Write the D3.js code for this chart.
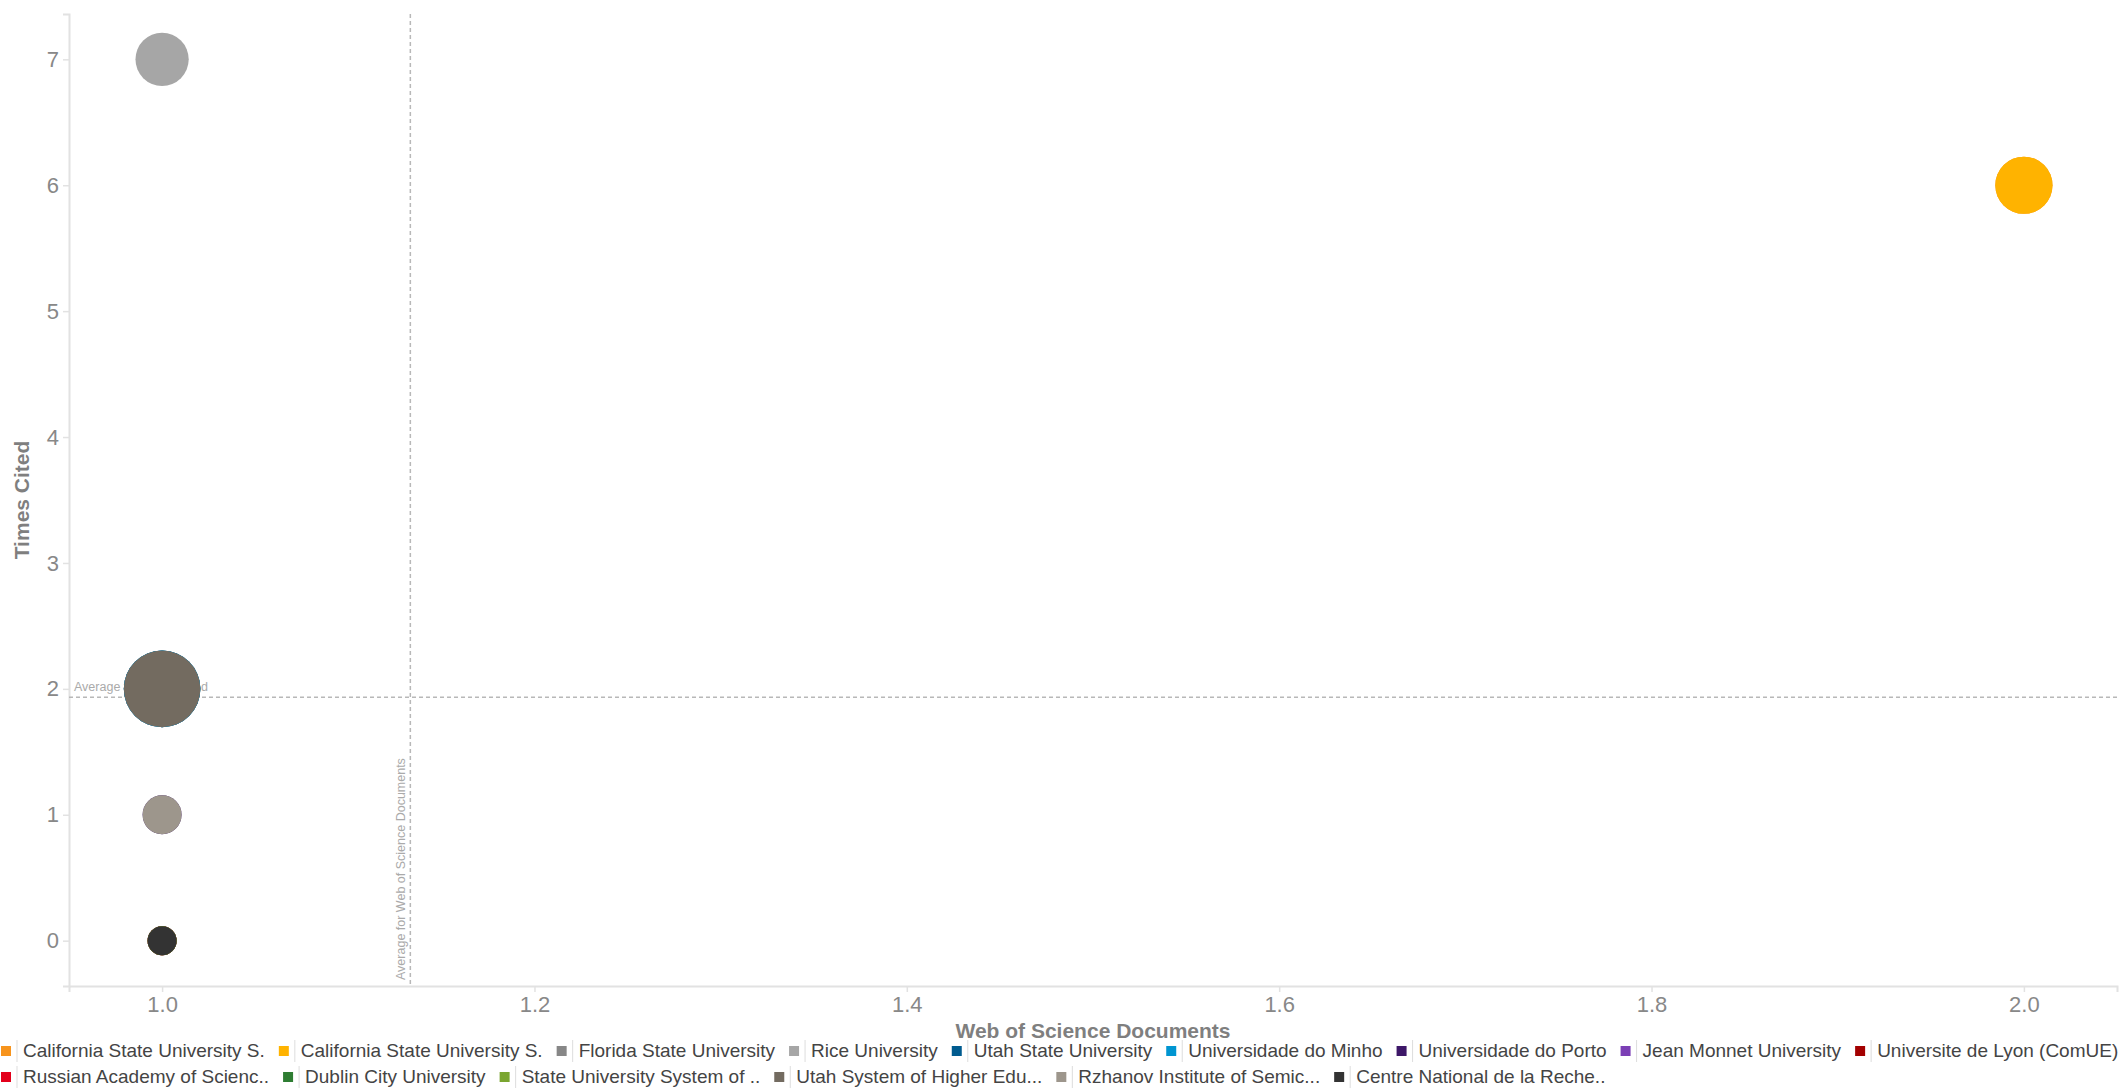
<!DOCTYPE html>
<html>
<head>
<meta charset="utf-8">
<script src="https://cdn.jsdelivr.net/npm/d3@7"></script>
<style>
  body { margin: 0; background: #fff; }
  svg { font-family: "Liberation Sans", Arial, sans-serif; }
</style>
</head>
<body>
<div id="chart"></div>
<script>
// institutions, in legend order
const institutions = [
  "California State University S.", "California State University S.", "Florida State University",
  "Rice University", "Utah State University", "Universidade do Minho", "Universidade do Porto",
  "Jean Monnet University", "Universite de Lyon (ComUE)", "Russian Academy of Scienc..",
  "Dublin City University", "State University System of ..", "Utah System of Higher Edu...",
  "Rzhanov Institute of Semic...", "Centre National de la Reche.."
];
const colours = [
  "#f7941d", "#ffb300", "#878787", "#a6a6a6", "#005b8f", "#0095d1", "#3d1768",
  "#7b3fb5", "#a30000", "#e3001b", "#2e7d32", "#7aa530", "#736b60", "#9d968c", "#333333"
];
const docs   = [2, 2, 1, 1, 1, 1, 1, 1, 1, 1, 1, 1, 1, 1, 1];
const cites  = [6, 6, 2, 7, 2, 2, 1, 0, 0, 0, 0, 0, 2, 1, 0];
const bubble = [8.2, 8.2, 14.7, 7.1, 14.7, 14.7, 3.8, 2.1, 2.1, 2.1, 2.1, 2.1, 14.7, 3.8, 2.1];

const xTicks = [1.0, 1.2, 1.4, 1.6, 1.8, 2.0];
const yTicks = [0, 1, 2, 3, 4, 5, 6, 7];

const width = 2125, height = 1088;
const plot = { left: 69, right: 2117, top: 14, bottom: 986 };
const axisGrey = "#e2e2e2";
const labelGrey = "#888888";

const data = institutions.map((name, i) => ({
  name: name, colour: colours[i], docs: docs[i], cites: cites[i], size: bubble[i]
}));

const x = d3.scaleLinear().domain([0.95, 2.05]).range([plot.left, plot.right]);
const y = d3.scaleLinear().domain([-0.36, 7.36]).range([plot.bottom, plot.top]);
const r = d3.scaleSqrt().domain([0, d3.max(bubble)]).range([0, 38.3]);

const svg = d3.select("#chart")
  .append("svg")
  .attr("width", width)
  .attr("height", height);

// axes
const xAxis = svg.append("g")
  .attr("transform", "translate(0," + plot.bottom + ")")
  .call(d3.axisBottom(x).tickValues(xTicks).tickFormat(d3.format(".1f")).tickSize(6).tickPadding(4));

const yAxis = svg.append("g")
  .attr("transform", "translate(" + plot.left + ",0)")
  .call(d3.axisLeft(y).tickValues(yTicks).tickFormat(d3.format("d")).tickSize(6).tickPadding(4));

[xAxis, yAxis].forEach(g => {
  g.select(".domain").attr("stroke", axisGrey).attr("stroke-width", 2);
  g.selectAll(".tick line").attr("stroke", axisGrey).attr("stroke-width", 1.5);
  g.selectAll(".tick text")
    .attr("fill", labelGrey)
    .style("font-size", "22px")
    .style("font-family", "'Liberation Sans', Arial, sans-serif");
});

// average reference lines
const avgDocs = d3.mean(docs);
const avgCites = d3.mean(cites);
const refGrey = "#b8b8b8";

svg.append("line")
  .attr("x1", plot.left).attr("x2", plot.right)
  .attr("y1", y(avgCites)).attr("y2", y(avgCites))
  .attr("stroke", refGrey).attr("stroke-width", 1.5)
  .attr("stroke-dasharray", "4,3");

svg.append("line")
  .attr("x1", x(avgDocs)).attr("x2", x(avgDocs))
  .attr("y1", plot.top).attr("y2", plot.bottom)
  .attr("stroke", refGrey).attr("stroke-width", 1.5)
  .attr("stroke-dasharray", "4,3");

svg.append("text")
  .attr("x", plot.left + 5)
  .attr("y", y(avgCites) - 6)
  .attr("fill", "#aaaaaa")
  .style("font-size", "12.5px")
  .text("Average for Times Cited");

svg.append("text")
  .attr("transform", "translate(" + (x(avgDocs) - 5) + "," + (plot.bottom - 6) + ")rotate(-90)")
  .attr("fill", "#aaaaaa")
  .style("font-size", "12.5px")
  .text("Average for Web of Science Documents");

// bubbles, drawn in legend order so later ones sit on top
svg.append("g")
  .selectAll("circle")
  .data(data)
  .enter()
  .append("circle")
  .attr("cx", d => x(d.docs))
  .attr("cy", d => y(d.cites))
  .attr("r", d => r(d.size))
  .attr("fill", d => d.colour);

// axis titles
svg.append("text")
  .attr("x", (plot.left + plot.right) / 2)
  .attr("y", 1038)
  .attr("text-anchor", "middle")
  .attr("fill", "#7f7f7f")
  .style("font-size", "21px")
  .style("font-weight", "bold")
  .text("Web of Science Documents");

svg.append("text")
  .attr("transform", "translate(22," + (plot.top + plot.bottom) / 2 + ")rotate(-90)")
  .attr("text-anchor", "middle")
  .attr("dy", "0.35em")
  .attr("fill", "#7f7f7f")
  .style("font-size", "21px")
  .style("font-weight", "bold")
  .text("Times Cited");

// legend, flowing left to right and wrapping
const legend = svg.append("g");
const rowY = [1051, 1077];
let lx = 1, row = 0;

data.forEach(d => {
  const item = legend.append("g");
  const label = item.append("text")
    .attr("x", 22)
    .attr("dy", "0.32em")
    .attr("fill", "#444444")
    .style("font-size", "19px")
    .text(d.name);
  const w = label.node().getComputedTextLength();
  if (lx > 1 && lx + 22 + w > width) { lx = 1; row += 1; }
  item.attr("transform", "translate(" + lx + "," + rowY[row] + ")");
  item.append("rect")
    .attr("x", 0).attr("y", -5)
    .attr("width", 10).attr("height", 10)
    .attr("fill", d.colour);
  item.append("line")
    .attr("x1", 16).attr("x2", 16)
    .attr("y1", -11).attr("y2", 11)
    .attr("stroke", "#dddddd");
  lx += 22 + w + 14;
});
</script>
</body>
</html>
